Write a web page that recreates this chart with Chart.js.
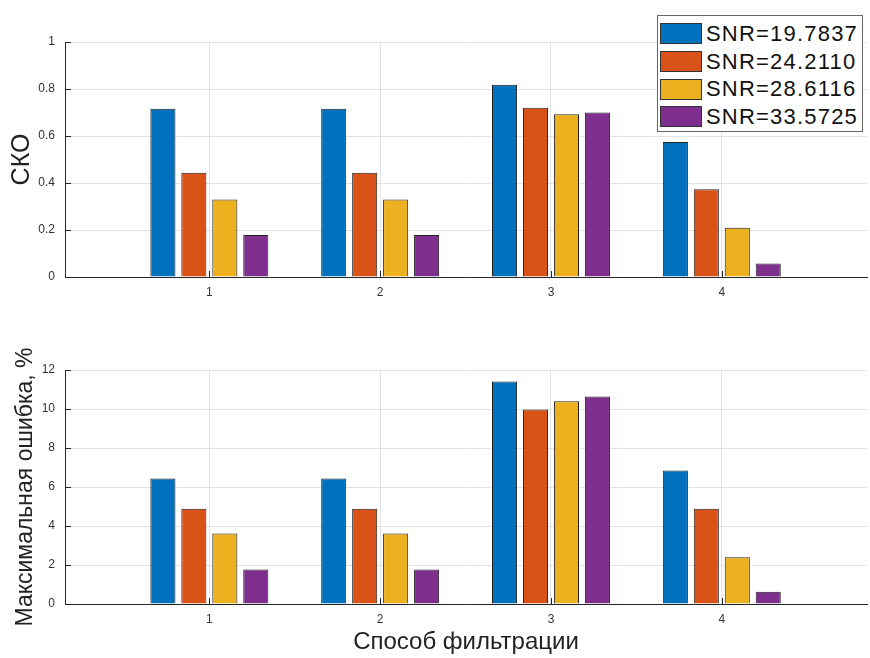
<!DOCTYPE html>
<html lang="ru">
<head>
    <meta charset="UTF-8">
    <title>СКО и максимальная ошибка</title>
    <script src="https://cdn.jsdelivr.net/npm/chart.js@4"></script>
    <style>
        body {
            margin: 0;
            background: #fff;
            font-family: 'Liberation Sans', Arial, Helvetica, sans-serif;
        }
        #wrap {
            position: relative;
            width: 870px;
            height: 658px;
        }
        canvas {
            position: absolute;
            left: 0;
        }
        #legend {
            position: absolute;
            left: 657px;
            top: 15px;
            width: 204px;
            height: 111px;
            border: 1px solid #666;
            background: #fff;
            padding-top: 4px;
            box-sizing: content-box;
        }
        .row {
            display: flex;
            align-items: center;
            height: 27.7px;
        }
        .swatch {
            width: 40px;
            height: 19px;
            border: 1px solid #333;
            margin-left: 2px;
            margin-right: 4px;
        }
        .label {
            font-size: 22px;
            color: #111;
            letter-spacing: 1.2px;
        }
    </style>
</head>
<body>
<div id="wrap">
    <canvas id="skoChart" width="870" height="320" style="top:0"></canvas>
    <canvas id="errChart" width="870" height="338" style="top:320px"></canvas>
    <div id="legend"></div>
</div>

<script>
    // data
    const categories = [1, 2, 3, 4];
    const seriesLabels = ['SNR=19.7837', 'SNR=24.2110', 'SNR=28.6116', 'SNR=33.5725'];
    const seriesColors = ['#0072BD', '#D95319', '#EDB120', '#7E2F8E'];

    const skoSnr1 = [0.716, 0.716, 0.818, 0.574];
    const skoSnr2 = [0.444, 0.444, 0.720, 0.373];
    const skoSnr3 = [0.330, 0.330, 0.693, 0.210];
    const skoSnr4 = [0.179, 0.179, 0.700, 0.057];

    const errSnr1 = [6.44, 6.44, 11.41, 6.85];
    const errSnr2 = [4.89, 4.89, 9.97, 4.89];
    const errSnr3 = [3.61, 3.61, 10.40, 2.40];
    const errSnr4 = [1.77, 1.77, 10.64, 0.63];

    const skoTicks = [0, 0.2, 0.4, 0.6, 0.8, 1];
    const errTicks = [0, 2, 4, 6, 8, 10, 12];

    const FONT = "'Liberation Sans', Arial, Helvetica, sans-serif";
    const gridColor = '#e3e3e3';
    const axisColor = '#262626';

    // MATLAB-style inward tick marks
    const innerTicks = {
        id: 'innerTicks',
        afterDatasetsDraw(chart) {
            const { ctx, scales: { x, y } } = chart;
            ctx.save();
            ctx.strokeStyle = axisColor;
            ctx.lineWidth = 1;
            ctx.beginPath();
            y.ticks.forEach(t => {
                const py = Math.round(y.getPixelForValue(t.value)) + 0.5;
                ctx.moveTo(x.left, py);
                ctx.lineTo(x.left + 6, py);
            });
            x.ticks.forEach(t => {
                const px = Math.round(x.getPixelForValue(t.value)) + 0.5;
                ctx.moveTo(px, y.bottom);
                ctx.lineTo(px, y.bottom - 6);
            });
            ctx.stroke();
            ctx.restore();
        }
    };

    function makeDatasets(series) {
        return series.map((vals, i) => ({
            label: seriesLabels[i],
            data: categories.map((c, j) => ({ x: c, y: vals[j] })),
            backgroundColor: seriesColors[i],
            borderColor: '#222',
            borderWidth: 1,
            categoryPercentage: 0.725,
            barPercentage: 0.81
        }));
    }

    function makeChart(id, series, yTicks, yTitle, yTitleSize, yTitlePad, xTitle, topPad, xHeight) {
        const ctx = document.getElementById(id).getContext('2d');
        return new Chart(ctx, {
            type: 'bar',
            data: { datasets: makeDatasets(series) },
            plugins: [innerTicks],
            options: {
                responsive: false,
                animation: false,
                layout: { padding: { top: topPad, right: 3, left: 0, bottom: 0 } },
                plugins: { legend: { display: false }, tooltip: { enabled: false } },
                scales: {
                    x: {
                        type: 'linear',
                        min: 0.155,
                        max: 4.85,
                        offset: false,
                        grid: { color: gridColor, drawTicks: false, offset: false },
                        border: { color: axisColor, width: 1 },
                        ticks: { padding: 8, color: '#333', font: { family: FONT, size: 12 } },
                        afterBuildTicks: s => { s.ticks = categories.map(v => ({ value: v })); },
                        afterFit: s => { s.height = xHeight; },
                        title: {
                            display: !!xTitle,
                            text: xTitle,
                            color: '#222',
                            font: { family: FONT, size: 24 },
                            padding: { top: 0, bottom: 1 }
                        }
                    },
                    y: {
                        min: yTicks[0],
                        max: yTicks[yTicks.length - 1],
                        grid: { color: gridColor, drawTicks: false },
                        border: { color: axisColor, width: 1 },
                        ticks: {
                            padding: 10,
                            color: '#333',
                            font: { family: FONT, size: 12 },
                            callback: v => String(Math.round(v * 10) / 10)
                        },
                        afterBuildTicks: s => { s.ticks = yTicks.map(v => ({ value: v })); },
                        afterFit: s => { s.width = 65; },
                        title: {
                            display: true,
                            text: yTitle,
                            color: '#222',
                            font: { family: FONT, size: yTitleSize },
                            padding: { top: yTitlePad, bottom: 0 }
                        }
                    }
                }
            }
        });
    }

    makeChart('skoChart', [skoSnr1, skoSnr2, skoSnr3, skoSnr4], skoTicks, 'СКО', 25, 7, '', 42, 43);
    makeChart('errChart', [errSnr1, errSnr2, errSnr3, errSnr4], errTicks, 'Максимальная ошибка, %', 23, 12, 'Способ фильтрации', 50, 54);

    // legend
    const legend = document.getElementById('legend');
    seriesLabels.forEach((label, i) => {
        const row = document.createElement('div');
        row.className = 'row';
        row.innerHTML = '<div class="swatch" style="background:' + seriesColors[i] + '"></div><span class="label">' + label + '</span>';
        legend.appendChild(row);
    });
</script>
</body>
</html>
